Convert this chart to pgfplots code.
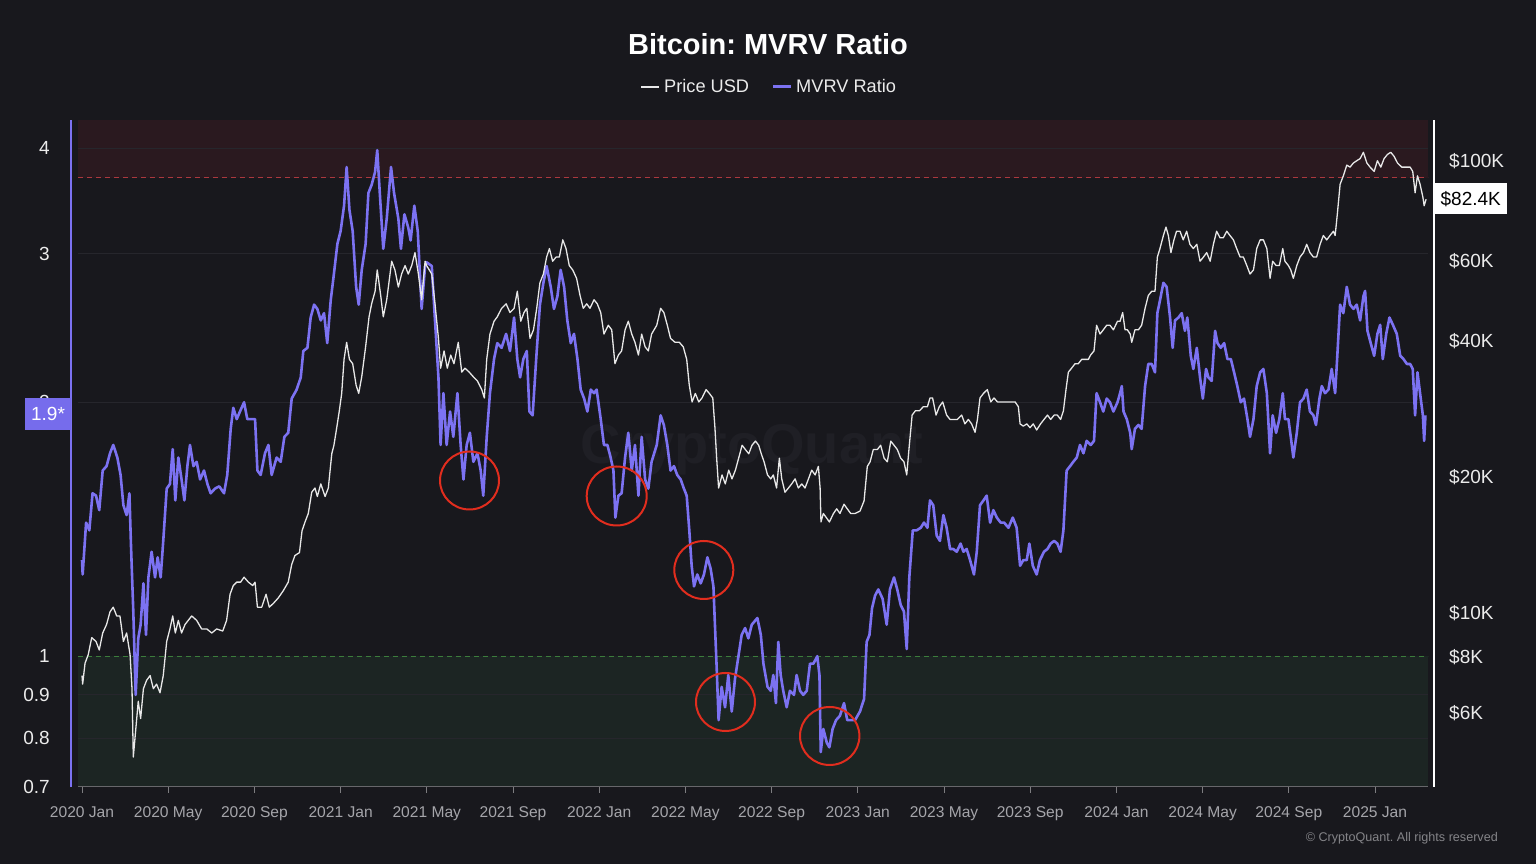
\documentclass[border=0pt]{standalone}
\usepackage{pgfplots}
\pgfplotsset{compat=1.18}
\usepackage{pgfplotstable}
\usepackage{fontspec}
\setmainfont{Liberation Sans}
\frenchspacing
\definecolor{bg}{RGB}{24,24,29}
\definecolor{mvrv}{RGB}{124,114,242}
\definecolor{mvrvbox}{RGB}{118,108,236}
\definecolor{redzone}{RGB}{42,25,31}
\definecolor{greenzone}{RGB}{28,37,35}
\definecolor{gridc}{RGB}{38,38,44}
\definecolor{reddash}{RGB}{172,56,62}
\definecolor{greendash}{RGB}{60,125,60}
\definecolor{circ}{RGB}{225,45,30}
\definecolor{xlab}{RGB}{165,165,170}
\definecolor{ylab}{RGB}{235,235,235}
\definecolor{pricec}{RGB}{232,232,232}
\definecolor{wmark}{RGB}{31,31,37}

\pgfplotstableread{
m v
0.00 1.30
0.03 1.25
0.19 1.44
0.34 1.41
0.49 1.56
0.65 1.55
0.80 1.49
0.96 1.66
1.14 1.68
1.30 1.74
1.45 1.78
1.64 1.72
1.79 1.64
1.92 1.51
2.07 1.47
2.20 1.56
2.27 1.36
2.38 1.13
2.49 0.90
2.61 1.05
2.72 1.09
2.85 1.22
2.97 1.06
3.08 1.24
3.23 1.33
3.39 1.24
3.51 1.31
3.65 1.24
3.77 1.37
3.93 1.58
4.08 1.60
4.21 1.76
4.33 1.53
4.47 1.72
4.62 1.62
4.75 1.53
4.89 1.68
5.01 1.78
5.17 1.68
5.32 1.70
5.48 1.62
5.66 1.66
5.82 1.60
5.97 1.56
6.17 1.58
6.37 1.59
6.59 1.56
6.74 1.64
6.90 1.86
7.02 1.97
7.18 1.91
7.33 1.95
7.52 2.00
7.67 1.91
7.87 1.91
8.03 1.91
8.14 1.66
8.29 1.64
8.49 1.74
8.65 1.78
8.80 1.64
9.03 1.72
9.22 1.70
9.39 1.82
9.57 1.84
9.73 2.02
9.96 2.07
10.15 2.14
10.27 2.30
10.46 2.32
10.61 2.52
10.77 2.61
10.92 2.58
11.08 2.50
11.23 2.55
11.38 2.35
11.54 2.64
11.69 2.84
11.85 3.08
12.00 3.19
12.16 3.42
12.28 3.80
12.41 3.38
12.56 3.19
12.72 2.74
12.84 2.61
12.98 2.87
13.16 3.08
13.29 3.54
13.44 3.62
13.60 3.75
13.70 3.98
13.83 3.50
13.98 3.04
14.14 3.30
14.34 3.80
14.48 3.54
14.68 3.30
14.80 3.04
14.96 3.34
15.14 3.22
15.25 3.11
15.42 3.42
15.58 3.19
15.76 2.58
15.92 2.90
15.99 2.93
16.23 2.90
16.38 2.50
16.54 2.14
16.64 1.78
16.77 2.05
16.92 1.78
17.08 1.95
17.23 1.82
17.42 2.05
17.57 1.78
17.70 1.62
17.85 1.78
18.00 1.84
18.16 1.70
18.35 1.74
18.50 1.66
18.62 1.55
18.78 1.82
18.93 2.05
19.12 2.25
19.27 2.35
19.47 2.32
19.68 2.41
19.86 2.30
20.05 2.52
20.20 2.25
20.33 2.14
20.48 2.25
20.64 2.30
20.76 1.95
20.91 1.93
21.10 2.30
21.25 2.61
21.41 2.77
21.56 2.90
21.75 2.74
21.90 2.58
22.06 2.67
22.21 2.87
22.37 2.74
22.52 2.50
22.68 2.35
22.83 2.41
22.99 2.25
23.14 2.07
23.30 2.02
23.45 1.95
23.61 2.07
23.76 2.05
23.88 2.07
24.07 1.91
24.22 1.78
24.38 1.78
24.53 1.72
24.66 1.66
24.75 1.46
24.89 1.55
25.04 1.56
25.20 1.72
25.35 1.84
25.51 1.66
25.66 1.78
25.82 1.55
25.97 1.82
26.13 1.62
26.28 1.58
26.43 1.70
26.67 1.78
26.85 1.93
27.00 1.88
27.16 1.78
27.31 1.66
27.47 1.68
27.62 1.64
27.78 1.62
27.93 1.58
28.06 1.55
28.18 1.41
28.29 1.28
28.40 1.21
28.55 1.25
28.71 1.22
28.86 1.25
29.02 1.31
29.17 1.27
29.30 1.21
29.37 1.09
29.45 0.97
29.54 0.84
29.68 0.92
29.84 0.87
29.99 0.95
30.15 0.86
30.30 0.94
30.46 1.00
30.61 1.06
30.77 1.08
30.92 1.05
31.08 1.09
31.34 1.11
31.50 1.06
31.62 0.98
31.81 0.92
31.96 0.91
32.08 0.95
32.20 0.88
32.31 1.04
32.42 0.95
32.54 0.91
32.70 0.87
32.85 0.91
33.04 0.90
33.16 0.95
33.32 0.91
33.47 0.90
33.63 0.91
33.78 0.98
33.94 0.98
34.12 1.00
34.22 0.95
34.28 0.77
34.40 0.82
34.56 0.79
34.68 0.78
34.83 0.82
34.99 0.84
35.17 0.85
35.36 0.88
35.51 0.84
35.67 0.84
35.87 0.84
36.10 0.86
36.29 0.89
36.41 1.04
36.54 1.06
36.66 1.14
36.80 1.18
36.95 1.20
37.15 1.17
37.34 1.09
37.49 1.20
37.68 1.24
37.83 1.20
37.99 1.15
38.14 1.13
38.27 1.02
38.39 1.24
38.55 1.41
38.73 1.41
38.92 1.42
39.07 1.44
39.23 1.42
39.35 1.53
39.50 1.51
39.66 1.39
39.81 1.37
39.97 1.47
40.12 1.42
40.28 1.34
40.43 1.34
40.59 1.33
40.77 1.36
40.90 1.33
41.05 1.34
41.21 1.30
41.39 1.25
41.52 1.33
41.67 1.51
41.83 1.53
41.98 1.55
42.14 1.44
42.29 1.49
42.45 1.46
42.63 1.44
42.79 1.44
42.99 1.42
43.19 1.46
43.37 1.42
43.53 1.28
43.68 1.30
43.84 1.30
43.96 1.36
44.12 1.28
44.30 1.25
44.45 1.30
44.64 1.33
44.80 1.34
44.95 1.36
45.11 1.37
45.26 1.36
45.41 1.33
45.54 1.41
45.69 1.66
45.85 1.68
46.00 1.70
46.16 1.72
46.31 1.78
46.47 1.74
46.62 1.80
46.81 1.78
46.96 1.80
47.08 2.05
47.24 2.00
47.39 1.95
47.55 2.02
47.70 2.00
47.86 1.95
48.05 2.00
48.17 2.05
48.25 2.09
48.33 1.95
48.48 1.91
48.64 1.84
48.71 1.76
48.86 1.86
49.02 1.88
49.17 1.86
49.33 2.09
49.48 2.22
49.64 2.22
49.79 2.17
49.90 2.55
50.02 2.64
50.18 2.77
50.33 2.74
50.49 2.52
50.61 2.32
50.72 2.50
50.88 2.52
51.03 2.55
51.18 2.43
51.29 2.52
51.45 2.27
51.57 2.19
51.73 2.32
51.88 2.14
52.01 2.02
52.16 2.19
52.27 2.14
52.42 2.12
52.58 2.43
52.69 2.35
52.84 2.32
53.00 2.35
53.15 2.25
53.31 2.25
53.46 2.17
53.61 2.09
53.77 2.00
53.92 2.02
54.08 1.91
54.20 1.82
54.36 1.91
54.51 2.09
54.67 2.17
54.82 2.19
54.98 2.05
55.13 1.74
55.25 1.93
55.41 1.84
55.56 1.91
55.72 2.05
55.82 1.91
55.98 1.91
56.09 1.82
56.21 1.72
56.37 1.84
56.52 2.00
56.68 2.02
56.83 2.07
56.98 1.95
57.14 1.93
57.26 1.88
57.42 2.02
57.53 2.09
57.68 2.05
57.84 2.07
57.99 2.19
58.15 2.05
58.25 2.27
58.38 2.61
58.53 2.55
58.69 2.74
58.84 2.61
59.00 2.58
59.15 2.61
59.31 2.50
59.46 2.67
59.54 2.71
59.65 2.43
59.80 2.35
59.96 2.27
60.11 2.41
60.24 2.47
60.36 2.25
60.52 2.41
60.67 2.52
60.83 2.47
61.01 2.41
61.17 2.27
61.32 2.25
61.48 2.22
61.63 2.22
61.75 2.19
61.86 1.93
61.97 2.17
62.09 2.05
62.22 1.93
62.28 1.80
62.34 1.93
}\mvrvdata

\pgfplotstableread{
m p
0.00 7.27
0.03 6.96
0.14 7.74
0.29 8.09
0.45 8.82
0.65 8.65
0.80 8.28
0.96 9.03
1.14 9.43
1.30 10.06
1.45 10.3
1.61 9.85
1.76 9.85
1.92 8.65
2.07 9.03
2.23 8.09
2.32 6.80
2.38 4.80
2.47 5.36
2.61 6.38
2.72 5.84
2.85 6.80
3.00 7.10
3.16 7.27
3.31 6.80
3.46 6.96
3.62 6.66
3.77 7.27
3.93 8.65
4.08 9.22
4.21 9.85
4.33 9.03
4.47 9.63
4.62 9.03
4.78 9.43
4.93 9.63
5.09 9.85
5.32 9.63
5.55 9.22
5.79 9.22
6.02 9.03
6.25 9.22
6.53 9.12
6.71 9.63
6.87 11.0
7.02 11.5
7.18 11.7
7.36 11.7
7.52 12.0
7.72 11.7
7.92 11.5
8.03 11.7
8.14 10.3
8.34 10.3
8.54 11.0
8.69 10.3
8.88 10.5
9.11 10.8
9.34 11.2
9.57 11.7
9.73 12.8
9.88 13.4
10.09 13.6
10.21 15.2
10.35 15.9
10.50 16.6
10.66 18.5
10.81 18.9
10.92 18.1
11.08 19.3
11.28 18.1
11.43 18.9
11.59 22.5
11.69 23.5
11.82 25.7
11.94 28.0
12.05 30.6
12.16 36.4
12.28 39.7
12.41 36.4
12.56 35.6
12.72 31.9
12.84 30.6
12.98 33.3
13.16 38.8
13.32 45.2
13.44 48.3
13.60 51.5
13.70 57.4
13.86 50.4
13.98 45.2
14.14 49.3
14.37 60.0
14.52 57.4
14.68 52.6
14.83 56.2
14.99 58.7
15.14 56.2
15.30 58.7
15.45 62.7
15.61 56.2
15.76 49.3
15.92 60.0
15.99 58.7
16.23 56.2
16.38 48.3
16.54 40.5
16.64 34.8
16.80 38.0
16.95 34.8
17.11 37.2
17.26 35.6
17.46 39.7
17.62 34.1
17.77 34.8
17.97 34.1
18.16 33.3
18.35 32.6
18.55 31.2
18.67 29.9
18.78 36.4
18.93 41.4
19.12 44.2
19.27 45.2
19.47 47.2
19.68 48.3
19.86 46.2
20.05 47.2
20.20 51.5
20.36 44.2
20.51 46.2
20.64 47.2
20.79 40.5
20.95 42.3
21.10 47.2
21.25 53.8
21.41 56.2
21.56 61.3
21.69 64.0
21.84 60.0
22.00 61.3
22.15 61.3
22.31 66.9
22.46 64.0
22.61 58.7
22.77 57.4
22.95 55.0
23.11 50.4
23.26 47.2
23.42 48.3
23.57 47.2
23.76 49.3
23.91 48.3
24.07 46.2
24.22 41.4
24.42 43.3
24.58 42.3
24.73 35.6
24.89 37.2
25.04 38.0
25.20 42.3
25.35 44.2
25.51 41.4
25.66 39.7
25.82 37.2
25.97 41.4
26.13 38.8
26.28 38.0
26.43 41.4
26.67 43.3
26.85 47.2
27.00 46.2
27.16 43.3
27.31 40.5
27.52 39.7
27.72 39.7
27.90 38.8
28.06 36.4
28.18 31.9
28.31 29.3
28.46 30.6
28.62 29.3
28.77 29.9
28.96 31.2
29.11 30.6
29.27 29.9
29.37 25.7
29.45 22.0
29.54 18.9
29.70 20.2
29.85 19.3
30.01 20.7
30.16 19.8
30.32 20.7
30.47 22.0
30.63 23.5
30.78 23.0
30.94 22.5
31.09 23.5
31.25 24.0
31.40 23.5
31.52 22.5
31.65 21.6
31.81 20.2
31.96 19.8
32.08 20.2
32.23 18.9
32.36 22.0
32.47 19.8
32.62 18.5
32.78 18.9
32.93 19.3
33.09 19.8
33.24 18.9
33.40 19.3
33.55 18.9
33.71 19.8
33.86 20.7
34.02 20.2
34.17 21.1
34.25 18.9
34.29 15.9
34.40 16.6
34.56 16.2
34.68 15.9
34.87 16.6
35.02 17.0
35.17 16.6
35.36 17.4
35.51 17.0
35.67 16.6
35.87 16.6
36.10 16.8
36.29 17.7
36.44 21.1
36.57 21.6
36.72 23.0
36.91 23.0
37.06 23.5
37.22 22.0
37.37 21.6
37.53 24.0
37.68 23.5
37.83 23.0
37.99 22.0
38.14 21.6
38.27 20.2
38.39 23.5
38.52 27.4
38.67 28.0
38.86 28.0
39.04 28.6
39.23 28.6
39.35 29.9
39.47 29.9
39.63 27.4
39.78 28.6
39.94 29.3
40.12 27.4
40.28 26.8
40.43 26.8
40.62 26.8
40.82 27.4
40.97 26.2
41.13 26.8
41.28 26.2
41.44 25.1
41.55 26.8
41.67 29.9
41.83 30.6
42.01 31.2
42.17 29.3
42.32 29.9
42.48 29.3
42.68 29.3
42.88 29.3
43.06 29.3
43.30 29.3
43.45 28.6
43.53 26.2
43.68 25.9
43.84 26.2
43.99 25.7
44.14 26.2
44.30 25.4
44.48 26.2
44.64 26.8
44.80 27.4
44.95 26.8
45.11 27.4
45.26 27.4
45.41 26.8
45.54 28.0
45.66 31.2
45.77 34.1
45.92 34.8
46.08 35.6
46.23 35.6
46.39 36.4
46.54 36.4
46.70 36.4
46.80 37.2
46.96 38.0
47.08 43.3
47.24 41.4
47.39 42.3
47.55 43.3
47.70 43.3
47.86 42.3
48.05 44.2
48.17 44.2
48.29 46.2
48.40 42.3
48.51 42.3
48.64 41.4
48.71 39.7
48.86 42.3
49.02 42.3
49.17 43.3
49.33 47.2
49.48 50.4
49.64 51.5
49.79 51.5
49.90 61.3
50.02 64.0
50.18 68.4
50.30 71.4
50.41 68.4
50.53 62.7
50.67 66.9
50.79 69.9
50.95 69.9
51.10 66.9
51.26 69.9
51.41 65.4
51.57 64.0
51.73 65.4
51.88 60.0
52.04 61.3
52.19 62.7
52.35 60.0
52.50 65.4
52.65 69.9
52.81 67.6
52.96 67.6
53.12 69.9
53.27 68.4
53.43 66.9
53.58 64.0
53.74 61.3
53.89 61.3
54.05 58.7
54.20 56.2
54.36 57.4
54.51 64.0
54.67 66.9
54.82 66.9
54.98 64.0
55.13 55.0
55.25 60.0
55.41 58.7
55.56 58.7
55.72 64.0
55.82 60.0
55.98 58.7
56.09 57.4
56.21 55.0
56.37 58.7
56.52 61.3
56.68 62.7
56.83 65.4
56.98 62.7
57.14 61.3
57.29 61.3
57.45 65.4
57.60 68.4
57.76 66.9
57.91 68.4
58.07 69.9
58.15 68.4
58.25 76.2
58.38 88.8
58.53 92.7
58.69 97.9
58.84 96.9
59.00 99.0
59.15 100.1
59.31 101.2
59.46 104.5
59.62 99.0
59.77 96.9
59.96 94.8
60.11 100.1
60.27 96.9
60.42 101.2
60.58 103.4
60.73 104.5
60.89 102.3
61.04 99.0
61.24 96.9
61.44 96.9
61.63 96.9
61.75 94.8
61.86 85.0
61.97 92.7
62.09 88.8
62.22 83.2
62.28 79.6
62.37 82.3
}\pricedata

\begin{document}
\begin{tikzpicture}[x=1pt,y=1pt]
\fill[bg] (0,0) rectangle (1536,864);
\useasboundingbox (0,0) rectangle (1536,864);

% title and legend
\node[font=\fontsize{29}{32}\selectfont\bfseries, text=white] at (768,820) {Bitcoin: MVRV Ratio};
\draw[pricec, line width=1.3pt] (641,777) -- (659,777);
\node[font=\fontsize{18.2}{20}\selectfont, text=ylab, anchor=west, inner sep=0pt] at (664,777.5) {Price USD};
\draw[mvrv, line width=3pt] (773,777) -- (791,777);
\node[font=\fontsize{18.2}{20}\selectfont, text=ylab, anchor=west, inner sep=0pt] at (796,777.5) {MVRV Ratio};

% watermark
\node[font=\fontsize{56}{60}\selectfont\bfseries, text=wmark] at (752,414) {CryptoQuant};

\begin{axis}[
  at={(78pt,77pt)}, anchor=south west,
  width=1350pt, height=667pt, scale only axis,
  xmin=-0.186, xmax=62.46,
  ymode=log, ymin=0.7, ymax=4.32,
  axis line style={draw=none},
  ytick={0.7,0.8,0.9,1,2,3,4},
  yticklabels={0.7,0.8,0.9,1,2,3,4},
  ytick style={draw=none},
  yticklabel style={font=\fontsize{19}{20}\selectfont, text=ylab, anchor=east, inner sep=0pt, xshift=-22pt},
  xtick={0,4,8,12,16,20,24,28,32,36,40,44,48,52,56,60},
  xticklabels={2020 Jan,2020 May,2020 Sep,2021 Jan,2021 May,2021 Sep,2022 Jan,2022 May,2022 Sep,2023 Jan,2023 May,2023 Sep,2024 Jan,2024 May,2024 Sep,2025 Jan},
  xtick pos=bottom,
  tick align=outside,
  major tick length=6pt,
  xtick style={draw=gridc!60!white, line width=1pt},
  xticklabel style={font=\fontsize{15.6}{17}\selectfont, text=xlab, anchor=base, inner sep=0pt, yshift=-25pt},
  clip=true,
]
\fill[redzone] (axis cs:-0.186,3.69) rectangle (axis cs:62.46,4.32);
\fill[greenzone] (axis cs:-0.186,0.7) rectangle (axis cs:62.46,1);
\draw[gridc, line width=0.9pt] (axis cs:-0.186,0.8) -- (axis cs:62.46,0.8);
\draw[gridc, line width=0.9pt] (axis cs:-0.186,0.9) -- (axis cs:62.46,0.9);
\draw[gridc, line width=0.9pt] (axis cs:-0.186,2) -- (axis cs:62.46,2);
\draw[gridc, line width=0.9pt] (axis cs:-0.186,3) -- (axis cs:62.46,3);
\draw[gridc, line width=0.9pt] (axis cs:-0.186,4) -- (axis cs:62.46,4);
\draw[reddash, line width=1.2pt, dash pattern=on 5pt off 4pt] (axis cs:-0.186,3.69) -- (axis cs:62.46,3.69);
\draw[greendash, line width=1.2pt, dash pattern=on 5pt off 4pt] (axis cs:-0.186,1) -- (axis cs:62.46,1);
\addplot[mvrv, line width=2.6pt, line join=round, no markers] table[x=m,y=v] {\mvrvdata};
\end{axis}

\begin{axis}[
  at={(78pt,77pt)}, anchor=south west,
  width=1350pt, height=667pt, scale only axis,
  xmin=-0.186, xmax=62.46,
  ymode=log, ymin=4.121, ymax=123.2,
  axis line style={draw=none},
  xtick=\empty,
  ytick={6,8,10,20,40,60,100},
  yticklabels={\$6K,\$8K,\$10K,\$20K,\$40K,\$60K,\$100K},
  yticklabel pos=right,
  ytick style={draw=none},
  yticklabel style={font=\fontsize{19}{20}\selectfont, text=ylab, anchor=west, inner sep=0pt, xshift=21pt},
  clip=false,
]
\addplot[pricec, line width=1.3pt, line join=round, no markers] table[x=m,y=p] {\pricedata};
\node[fill=white, text=black, anchor=west, font=\fontsize{19}{20}\selectfont, inner sep=0pt, minimum height=31pt, minimum width=73pt] at (axis cs:62.46,82.4) [xshift=6pt] {\$82.4K};
\end{axis}

% axis lines
\draw[mvrv, line width=2.5pt] (71,77) -- (71,744);
\draw[white, line width=2pt] (1434,77) -- (1434,744);
\draw[gridc!70!white, line width=1pt] (78,77) -- (1428,77);

% current MVRV label
\node[fill=mvrvbox, text=white, font=\fontsize{19}{20}\selectfont, inner sep=0pt, minimum width=46pt, minimum height=32pt] at (48,450) {1.9*};

% red circles
\draw[circ, line width=2pt] (469.5,383.5) ellipse [x radius=29.5, y radius=29];
\draw[circ, line width=2pt] (616.7,368) ellipse [x radius=30, y radius=29.5];
\draw[circ, line width=2pt] (703.8,294) ellipse [x radius=29.5, y radius=29];
\draw[circ, line width=2pt] (725.5,162) ellipse [x radius=29.5, y radius=29];
\draw[circ, line width=2pt] (829.7,128) ellipse [x radius=29.7, y radius=29];

% copyright
\node[font=\fontsize{12.6}{14}\selectfont, text=xlab!80!black, anchor=east, inner sep=0pt] at (1498,26) {\textcopyright{} CryptoQuant. All rights reserved};
\end{tikzpicture}
\end{document}
